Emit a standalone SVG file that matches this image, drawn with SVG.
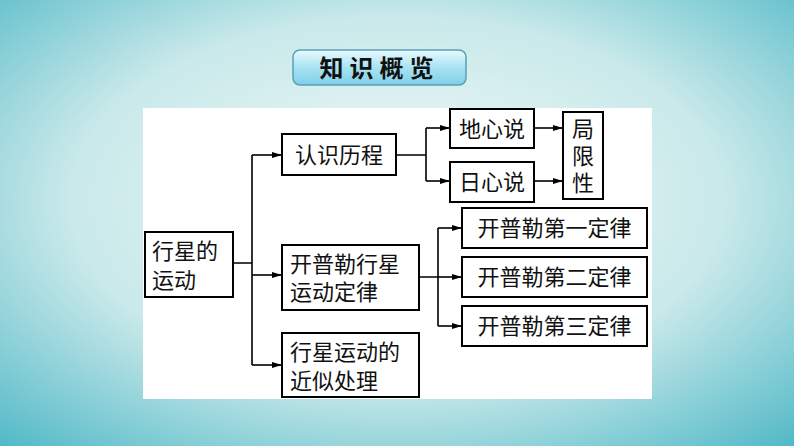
<svg xmlns="http://www.w3.org/2000/svg" width="794" height="446" viewBox="0 0 794 446">
<defs>
<radialGradient id="bg" cx="0.5" cy="0.45" r="0.75"><stop offset="0" stop-color="#f2f9f8"/><stop offset="0.55" stop-color="#c9e9ea"/><stop offset="1" stop-color="#4fb8c6"/></radialGradient>
<linearGradient id="tb" x1="0" y1="0" x2="0" y2="1"><stop offset="0" stop-color="#e9f9fd"/><stop offset="0.5" stop-color="#a8e3f3"/><stop offset="1" stop-color="#7fcfe8"/></linearGradient>
<marker id="ar" markerWidth="10" markerHeight="6" refX="10" refY="3" orient="auto" markerUnits="userSpaceOnUse"><path d="M0,0 L10,3 L0,6 Z" fill="#000"/></marker>
<style>
.b{fill:#fff;stroke:#000;stroke-width:2}
.t{font-family:"Noto Sans CJK SC",sans-serif;font-size:22px;fill:#111}
.c{fill:none;stroke:#000;stroke-width:1.6}
</style>
</defs>
<rect width="794" height="446" fill="url(#bg)"/>
<g id="title"><rect x="293" y="50" width="173" height="35" rx="7" fill="url(#tb)" stroke="#5a9fb8" stroke-width="1.5"/>
<text x="379.5" y="77" text-anchor="middle" font-family="Noto Sans CJK SC,sans-serif" font-weight="bold" font-size="24" letter-spacing="6" fill="#111">知识概览</text></g>
<rect x="143" y="108" width="509" height="291" fill="#fff"/>
<g id="connectors" class="c">
<path d="M233,263 H252 M252,155 V365"/>
<path d="M252,155 H282" marker-end="url(#ar)"/>
<path d="M252,275 H282" marker-end="url(#ar)"/>
<path d="M252,365 H282" marker-end="url(#ar)"/>
<path d="M396,155 H426 M426,128 V181"/>
<path d="M426,128 H450" marker-end="url(#ar)"/>
<path d="M426,181 H450" marker-end="url(#ar)"/>
<path d="M534,128 H563" marker-end="url(#ar)"/>
<path d="M534,181 H563" marker-end="url(#ar)"/>
<path d="M419,277 H438 M438,228 V326"/>
<path d="M438,228 H462" marker-end="url(#ar)"/>
<path d="M438,277 H462" marker-end="url(#ar)"/>
<path d="M438,326 H462" marker-end="url(#ar)"/>
</g>
<g id="n1"><rect class="b" x="145" y="232" width="88" height="65"/><text class="t" x="152" y="259">行星的</text><text class="t" x="152" y="288">运动</text></g>
<g id="n2"><rect class="b" x="282" y="134" width="114" height="41"/><text class="t" x="339" y="163" text-anchor="middle">认识历程</text></g>
<g id="n3"><rect class="b" x="450" y="109" width="84" height="39"/><text class="t" x="492" y="137" text-anchor="middle">地心说</text></g>
<g id="n4"><rect class="b" x="450" y="162" width="84" height="40"/><text class="t" x="492" y="190" text-anchor="middle">日心说</text></g>
<g id="n5"><rect class="b" x="563" y="112" width="40" height="87"/><text class="t" x="583" y="137" text-anchor="middle">局</text><text class="t" x="583" y="164" text-anchor="middle">限</text><text class="t" x="583" y="191" text-anchor="middle">性</text></g>
<g id="n6"><rect class="b" x="282" y="245" width="137" height="65"/><text class="t" x="290" y="272">开普勒行星</text><text class="t" x="290" y="300">运动定律</text></g>
<g id="n7"><rect class="b" x="462" y="208" width="185" height="40"/><text class="t" x="554.5" y="236" text-anchor="middle">开普勒第一定律</text></g>
<g id="n8"><rect class="b" x="462" y="257" width="185" height="40"/><text class="t" x="554.5" y="285" text-anchor="middle">开普勒第二定律</text></g>
<g id="n9"><rect class="b" x="462" y="306" width="185" height="40"/><text class="t" x="554.5" y="334" text-anchor="middle">开普勒第三定律</text></g>
<g id="n10"><rect class="b" x="282" y="333" width="137" height="64"/><text class="t" x="290" y="360">行星运动的</text><text class="t" x="290" y="389">近似处理</text></g>
</svg>
